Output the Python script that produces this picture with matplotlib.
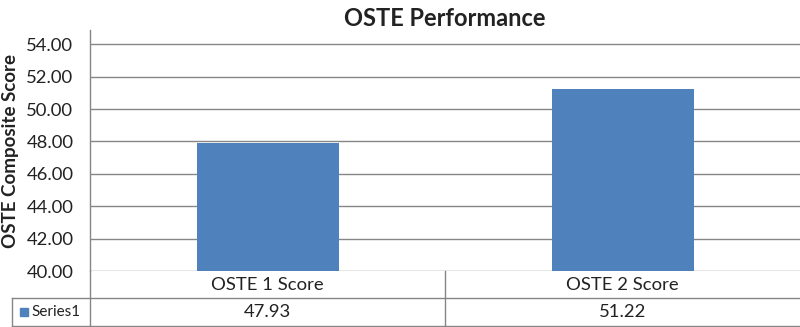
import matplotlib
matplotlib.use("Agg")
import matplotlib.pyplot as plt
from matplotlib.patches import Rectangle

categories = ["OSTE 1 Score", "OSTE 2 Score"]
values = [47.93, 51.22]
value_labels = ["47.93", "51.22"]
series_name = "Series1"
yticks = [40, 42, 44, 46, 48, 50, 52, 54]

bar_color = "#4F81BD"
line_color = "#868686"

plt.rcParams["font.family"] = ["Lato", "DejaVu Sans"]

W, H = 800, 327
fig = plt.figure(figsize=(W / 100, H / 100), dpi=100)

# plot area in pixels
left, right, top, bottom = 90, 800, 30, 271
ax = fig.add_axes([left / W, 1 - bottom / H, (right - left) / W, (bottom - top) / H])

x = list(range(len(categories)))
ax.bar(x, [v - 40 for v in values], bottom=40, width=0.4, color=bar_color, zorder=3)

ax.set_xlim(-0.5, len(categories) - 0.5)
ax.set_ylim(40, 40 + (bottom - top) / 16.2)
ax.set_yticks(yticks)
ax.set_yticklabels([f"{t:.2f}" for t in yticks], fontsize=13.3, color="#222222")
ax.tick_params(axis="y", length=0, pad=12)
ax.set_xticks([])
for t in yticks:
    ax.axhline(t, color=line_color, linewidth=1, zorder=1)

for s in ["top", "right", "bottom"]:
    ax.spines[s].set_visible(False)
ax.spines["left"].set_color(line_color)
ax.spines["left"].set_linewidth(1)

ax.set_ylabel("OSTE Composite Score", fontsize=13.5, fontweight="bold", color="#222222",
              va="center")
ax.yaxis.set_label_coords(-0.112, 0.5)
ax.set_title("OSTE Performance", fontsize=17, fontweight="bold", color="#222222", pad=2)

# data table below the axis
ph = bottom - top
pw = right - left
r1 = -27 / ph
r2 = -55 / ph
xl = -78 / pw
lk = dict(color=line_color, linewidth=1, transform=ax.transAxes, clip_on=False)
ax.plot([0, 0], [0, r2], **lk)
ax.plot([0.5, 0.5], [0, r2], **lk)
ax.plot([xl, 1], [r1, r1], **lk)
ax.plot([xl, 1], [r2, r2], **lk)
ax.plot([xl, xl], [r1, r2], **lk)

xt = ax.get_xaxis_transform()
for i, (c, v) in enumerate(zip(categories, value_labels)):
    ax.text(i, r1 / 2, c, transform=xt, ha="center", va="center", fontsize=13.3,
            color="#222222", clip_on=False)
    ax.text(i, (r1 + r2) / 2, v, transform=xt, ha="center", va="center", fontsize=13.3,
            color="#222222", clip_on=False)

ax.add_patch(Rectangle((-70 / pw, (r1 + r2) / 2 - 4 / ph), 8 / pw, 8 / ph,
                       transform=ax.transAxes, color=bar_color, clip_on=False))
ax.text(-59 / pw, (r1 + r2) / 2, series_name, transform=ax.transAxes, ha="left",
        va="center", fontsize=11, color="#222222", clip_on=False)

fig.savefig("out.png", dpi=100)
